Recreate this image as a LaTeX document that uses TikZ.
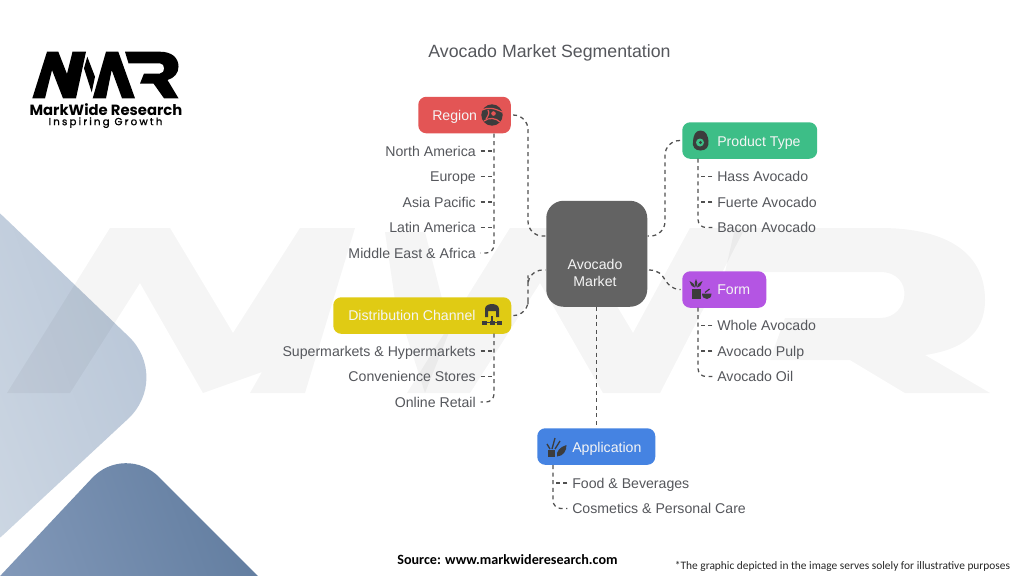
\documentclass[tikz,border=0pt]{standalone}
\usepackage{fontspec}
\setmainfont{Liberation Sans}
\newfontfamily\logofont{Poppins}[BoldFont={* Bold}]
\newfontfamily\logospaced{Poppins}[LetterSpace=21,FakeBold=1.2]
\newfontfamily\notefont{Carlito}
\definecolor{inkgrey}{HTML}{55575C}
\definecolor{linegrey}{HTML}{505050}
\definecolor{icongrey}{HTML}{3C3C3C}
\definecolor{cred}{HTML}{E35555}
\definecolor{cgreen}{HTML}{3DBE87}
\definecolor{cpurple}{HTML}{B455E3}
\definecolor{cyellow}{HTML}{E0CB14}
\definecolor{cblue}{HTML}{4583E2}
\definecolor{ccentre}{HTML}{636363}
\tikzset{
  x=0.75pt,y=-0.75pt,
  box/.style={draw=none,rounded corners=6pt,inner sep=0pt,anchor=north west},
  boxtext/.style={text=white!96!black,inner sep=0pt,font=\fontsize{10.6}{12}\selectfont,text height=9.6pt,text depth=1.8pt},
  lab/.style={text=inkgrey,inner sep=0pt,font=\fontsize{10.6}{12}\selectfont,text height=9.6pt,text depth=1.8pt},
  labl/.style={lab,anchor=west},
  labr/.style={lab,anchor=east},
  conn/.style={draw=linegrey,line width=0.95pt,dash pattern=on 3pt off 2.7pt},
  main/.style={conn,rounded corners=11pt,shorten <=1.5pt,shorten >=0.5pt},
  trunk/.style={conn,rounded corners=6pt,shorten >=3.5pt},
  twig/.style={conn,shorten <=3.5pt},
  icon/.style={fill=icongrey,draw=none},
  wm/.style={fill=black,fill opacity=0.04,draw=none},
}
\begin{document}
\begin{tikzpicture}
\useasboundingbox (0,0) rectangle (1024,576);
\fill[white] (0,0) rectangle (1024,576);
% corner shapes
\shade[rounded corners=45pt,left color={rgb,255:red,205;green,215;blue,227},right color={rgb,255:red,182;green,196;blue,214},shading angle=110]
  (-40,175) -- (172,378) -- (-40,575) -- cycle;
\shade[rounded corners=36pt,left color={rgb,255:red,134;green,156;blue,188},right color={rgb,255:red,92;green,120;blue,155},shading angle=110]
  (-60,640) -- (125,443) -- (322,640) -- cycle;
\fill[white] (-2,576) rectangle (330,650);
% watermark
\fill[wm] (7,393) -- (110,228) -- (170,228) -- (233,333) -- (300,228) -- (355,228) -- (305,393) -- (250,393) -- (262,372) -- (203,393) -- (140,283) -- (70,393) -- cycle;
\fill[wm] (407,393) -- (510,228) -- (570,228) -- (633,333) -- (690,228) -- (745,228) -- (660,393) -- (603,393) -- (540,283) -- (470,393) -- cycle;
\fill[wm] (385,232) -- (425,232) -- (450,330) -- (425,393) -- (395,300) -- cycle;
\fill[wm] (735,228) -- (880,228) .. controls (950,228) and (985,255) .. (985,300) .. controls (985,335) and (960,350) .. (925,355) -- (990,393) -- (905,393) -- (850,360) -- (770,360) -- (785,318) -- (880,318) .. controls (910,318) and (915,272) .. (880,272) -- (725,272) -- cycle;
% logo
\fill[black] (32.3,98.3) -- (47,51.7) -- (58.3,51.7) -- (67,74) -- (72.5,51.7) -- (86,51.7) -- (76,98.3) -- (63,98.3) -- (52,70) -- (45,98.3) -- cycle;
\fill[black] (87.3,56.7) -- (95,76.7) -- (91.7,92.3) -- (84,68.3) -- cycle;
\fill[black] (92.7,98.3) -- (106,51.7) -- (118.3,51.7) -- (135,98.3) -- (122,98.3) -- (111.7,70) -- (106,98.3) -- cycle;
\fill[black] (125,51.7) -- (160,51.7) .. controls (172,51.7) and (178.5,58) .. (178.5,66.5) .. controls (178.5,73) and (174.5,78) .. (167.5,80) -- (178.5,98.3) -- (164,98.3) -- (153.5,83.5) -- (140,83.5) -- (144,73.5) -- (160,73.5) .. controls (165.5,73.5) and (165.5,63.3) .. (160,63.3) -- (128.5,63.3) -- cycle;
\node[inner sep=0pt,text height=8pt,text depth=0.5pt,font=\logofont\bfseries\fontsize{11.1}{13}\selectfont] (lg1) at (106,110) {MarkWide Research};
\node[inner sep=0pt,text height=5.6pt,text depth=1.6pt,font=\logospaced\fontsize{7.7}{9}\selectfont] (lg2) at (105.5,122.5) {Inspiring Growth};
% title
\node[inner sep=0pt,text=inkgrey,font=\fontsize{13.3}{15}\selectfont] (title) at (549.5,52.5) {Avocado Market Segmentation};
% boxes
\node[box,fill=ccentre,rounded corners=13pt,minimum width=75.75pt,minimum height=79.5pt] (centre) at (546,200.5) {};
\node[box,fill=cred,minimum width=69.4pt,minimum height=27.4pt] (region) at (418,96.5) {};
\node[box,fill=cgreen,minimum width=101.2pt,minimum height=27.4pt] (product) at (682,122) {};
\node[box,fill=cpurple,minimum width=63pt,minimum height=27.4pt] (form) at (682,271) {};
\node[box,fill=cyellow,minimum width=133.5pt,minimum height=27.4pt] (dist) at (333,297) {};
\node[box,fill=cblue,minimum width=88.5pt,minimum height=27.4pt] (app) at (537,428) {};
% box texts
\node[inner sep=0pt,text=white!96!black,font=\fontsize{10.6}{12}\selectfont,align=center] (ctext) at (595,273) {Avocado\\[1.2pt]Market};
\node[boxtext,anchor=west] (t1) at (432,115) {Region};
\node[boxtext,anchor=west] (t2) at (717,141) {Product Type};
\node[boxtext,anchor=west] (t3) at (717,289.5) {Form};
\node[boxtext,anchor=west] (t4) at (348,315) {Distribution Channel};
\node[boxtext,anchor=west] (t5) at (572,447) {Application};
% labels
\node[labr] (r1) at (476,151) {North America};
\node[labr] (r2) at (476,176.5) {Europe};
\node[labr] (r3) at (476,202) {Asia Pacific};
\node[labr] (r4) at (476,227.5) {Latin America};
\node[labr] (r5) at (476,253) {Middle East \& Africa};
\node[labl] (p1) at (717,176.5) {Hass Avocado};
\node[labl] (p2) at (717,202) {Fuerte Avocado};
\node[labl] (p3) at (717,227.5) {Bacon Avocado};
\node[labl] (f1) at (717,325.5) {Whole Avocado};
\node[labl] (f2) at (717,351) {Avocado Pulp};
\node[labl] (f3) at (717,376.5) {Avocado Oil};
\node[labr] (d1) at (476,351) {Supermarkets \& Hypermarkets};
\node[labr] (d2) at (476,376.5) {Convenience Stores};
\node[labr] (d3) at (476,402) {Online Retail};
\node[labl] (a1) at (572,483) {Food \& Beverages};
\node[labl] (a2) at (572,508.5) {Cosmetics \& Personal Care};
% anchor coordinates
\coordinate (cL1) at (546,236);
\coordinate (cL2) at (546,270);
\coordinate (cR1) at (647,236);
\coordinate (cR2) at (647,270);
\coordinate (mL) at (528,180);
\coordinate (mL2) at (528,290);
\coordinate (mR) at (665,190);
\coordinate (rt) at (494,133.5);
\coordinate (pt) at (698,158.5);
\coordinate (ft) at (698,307.5);
\coordinate (dt) at (494,333.5);
\coordinate (at) at (553,465);
% main connectors
\draw[main] (region.east) -| (mL) |- (cL1);
\draw[main] (product.west) -| (mR) |- (cR1);
\draw[main] (dist.east) -| (mL2) |- (cL2);
\draw[conn,shorten <=1.5pt,shorten >=1pt] (cR2) .. controls (668,270) and (662,289) .. (form.west);
\draw[conn] (centre.south) -- (centre.south |- app.north);
% child connectors
\draw[trunk] (rt) |- (r5.east);
\draw[twig] (r1.east) -- (r1.east -| rt);
\draw[twig] (r2.east) -- (r2.east -| rt);
\draw[twig] (r3.east) -- (r3.east -| rt);
\draw[twig] (r4.east) -- (r4.east -| rt);
\draw[trunk] (pt) |- (p3.west);
\draw[twig] (p1.west) -- (p1.west -| pt);
\draw[twig] (p2.west) -- (p2.west -| pt);
\draw[trunk] (ft) |- (f3.west);
\draw[twig] (f1.west) -- (f1.west -| ft);
\draw[twig] (f2.west) -- (f2.west -| ft);
\draw[trunk] (dt) |- (d3.east);
\draw[twig] (d1.east) -- (d1.east -| dt);
\draw[twig] (d2.east) -- (d2.east -| dt);
\draw[trunk] (at) |- (a2.west);
\draw[twig] (a1.west) -- (a1.west -| at);
% icons
% globe
\fill[icon] (492,115) circle (8pt);
\begin{scope}[draw=cred,line width=0.9pt]
\draw (482,110) .. controls (488,107) and (494,108) .. (502,112);
\draw (484,121) .. controls (489,117) and (496,118) .. (500,122);
\draw (488,110) .. controls (490,113) and (488,116) .. (486,119);
\end{scope}
\fill[cred] (493.5,113.5) circle (1.7pt);
% avocado
\fill[icon] (700.5,130.5) .. controls (695,130.5) and (693.5,136) .. (693,141) .. controls (692,147) and (695,150.5) .. (700.5,150.5) .. controls (706,150.5) and (709,147) .. (708.5,141) .. controls (708,136) and (706,130.5) .. (700.5,130.5) -- cycle;
\fill[cgreen] (700,142.5) circle (3pt);
\fill[icongrey] (700.5,142.5) circle (1.2pt);
% plant and pot
\fill[icon] (691.5,288.5) rectangle (700.5,299);
\fill[icon] (702,293.5) -- (711.5,293.5) .. controls (711.5,297) and (709.5,299) .. (707,299) .. controls (704,299) and (702,297) .. (702,293.5) -- cycle;
\fill[icon] (696,287.5) .. controls (694,284) and (694.5,281) .. (696,279) .. controls (697.5,281) and (698,284) .. (696,287.5) -- cycle;
\fill[icon] (695,287.5) .. controls (691.5,286.5) and (690,284) .. (689.5,281) .. controls (692.5,282) and (694.5,284) .. (695,287.5) -- cycle;
\fill[icon] (697,287.5) .. controls (700.5,286.5) and (702,284) .. (702.5,281) .. controls (699.5,282) and (697.5,284) .. (697,287.5) -- cycle;
\draw[icongrey,line width=0.9pt] (705,292.5) -- (709.5,289);
% network
\fill[icon] (485,317) -- (485,309) .. controls (485,306) and (488,304) .. (492,304) .. controls (496,304) and (499,306) .. (499,309) -- (499,317) -- (496,317) -- (496,311) -- (488,311) -- (488,317) -- cycle;
\fill[icon] (482,320.5) rectangle (487,325);
\fill[icon] (489.5,320.5) rectangle (494.5,325);
\fill[icon] (497,320.5) rectangle (502,325);
\fill[icon] (491.4,316) rectangle (492.6,321);
\fill[icon] (486,322.2) rectangle (498,323.2);
% plant sprigs
\fill[icon] (548,450) rectangle (555,457);
\fill[icon] (557,456.5) .. controls (556,451) and (560,447) .. (566.5,445) .. controls (566.5,451) and (563.5,456) .. (557,456.5) -- cycle;
\draw[icongrey,line width=1pt] (550,449) -- (547,444);
\draw[icongrey,line width=1pt] (552,449) -- (555,438);
\draw[icongrey,line width=1pt] (555,449) -- (560,441);
% footer
\node[inner sep=0pt,font=\notefont\bfseries\fontsize{10.6}{13}\selectfont] (src) at (507.5,559.5) {Source: www.markwideresearch.com};
\node[inner sep=0pt,text=black!85,font=\notefont\fontsize{8.55}{11}\selectfont] (note) at (842.5,566) {*The graphic depicted in the image serves solely for illustrative purposes};
\end{tikzpicture}
\end{document}
